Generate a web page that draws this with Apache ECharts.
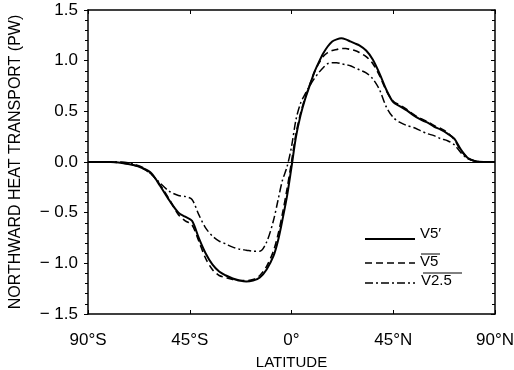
<!DOCTYPE html>
<html><head><meta charset="utf-8">
<script src="https://cdn.jsdelivr.net/npm/echarts@6/dist/echarts.min.js"></script>
<style>html,body{margin:0;padding:0;background:#fff}#c{width:514px;height:370px}</style>
</head><body><div id="c"></div>
<script>
var latitudes = [-90,-80,-75,-70,-66,-62,-58,-54,-50,-47,-44,-41,-38,-35,-32,-29,-26,-23,-20,-17,-14,-11,-8,-6,-4,-2,0,2,4,6,8,10,12,14,16,18,20,22,24,26,28,30,33,36,39,42,45,48,51,54,57,60,63,66,69,72,75,78,81,85,90];
var v5prime = [0,0,-0.01,-0.03,-0.06,-0.11,-0.24,-0.38,-0.50,-0.54,-0.58,-0.75,-0.90,-1.01,-1.08,-1.12,-1.15,-1.17,-1.18,-1.17,-1.14,-1.06,-0.93,-0.78,-0.57,-0.34,-0.05,0.25,0.46,0.62,0.75,0.88,0.98,1.07,1.14,1.19,1.21,1.22,1.21,1.19,1.17,1.15,1.10,1.01,0.87,0.71,0.59,0.55,0.51,0.46,0.42,0.39,0.35,0.32,0.28,0.23,0.12,0.04,0.01,0,0];
var v5bar = [0,0,-0.01,-0.03,-0.06,-0.12,-0.23,-0.37,-0.52,-0.58,-0.62,-0.78,-0.95,-1.06,-1.12,-1.14,-1.16,-1.17,-1.17,-1.16,-1.12,-1.03,-0.88,-0.72,-0.51,-0.27,0.0,0.28,0.48,0.63,0.76,0.88,0.97,1.04,1.08,1.10,1.11,1.12,1.12,1.11,1.10,1.08,1.04,0.97,0.85,0.70,0.60,0.56,0.52,0.47,0.43,0.40,0.36,0.33,0.29,0.22,0.11,0.04,0.01,0,0];
var v25bar = [0,0,0,-0.02,-0.05,-0.12,-0.21,-0.29,-0.33,-0.34,-0.37,-0.52,-0.65,-0.73,-0.78,-0.81,-0.84,-0.86,-0.87,-0.88,-0.88,-0.79,-0.58,-0.38,-0.18,-0.05,0.15,0.42,0.58,0.67,0.75,0.82,0.88,0.93,0.97,0.98,0.98,0.97,0.96,0.95,0.93,0.91,0.88,0.82,0.71,0.54,0.44,0.39,0.36,0.34,0.31,0.28,0.26,0.23,0.21,0.17,0.09,0.03,0.01,0,0];
var xTicks = {'-90':'90°S','-45':'45°S','0':'0°','45':'45°N','90':'90°N'};
var yTicks = [-1.5,-1.0,-0.5,0.0,0.5,1.0,1.5];

function pairs(v){return latitudes.map(function(l,i){return [l,v[i]];});}
var FONT = '"Liberation Sans", Arial, sans-serif';
var chart = echarts.init(document.getElementById('c'), null, {renderer:'canvas'});
var axLine = {show:true, onZero:false, lineStyle:{color:'#000', width:1.5}};
chart.setOption({
  animation:false,
  grid:{left:88, right:19, top:10, bottom:56, containLabel:false, outerBoundsMode:'none'},
  xAxis:[{
    type:'value', min:-90, max:90, interval:45, position:'bottom',
    axisLine:axLine, splitLine:{show:false},
    axisTick:{show:true, inside:true, length:4, lineStyle:{color:'#000'}},
    axisLabel:{color:'#000', fontSize:17, fontFamily:FONT, margin:18, formatter:function(v){return xTicks[String(v)]||'';}},
    name:'LATITUDE', nameLocation:'middle', nameGap:41, nameMoveOverlap:false,
    nameTextStyle:{color:'#000', fontSize:15, fontFamily:FONT}
  },{
    type:'value', min:-90, max:90, interval:45, position:'top',
    axisLine:axLine, splitLine:{show:false}, axisLabel:{show:false},
    axisTick:{show:true, inside:true, length:4, lineStyle:{color:'#000'}}
  }],
  yAxis:[{
    type:'value', min:-1.5, max:1.5, interval:0.5, position:'left',
    axisLine:axLine, splitLine:{show:false},
    axisTick:{show:true, inside:false, length:4, lineStyle:{color:'#000'}},
    minorTick:{show:true, splitNumber:5, length:3, lineStyle:{color:'#000'}},
    axisLabel:{color:'#000', fontSize:17, fontFamily:FONT, margin:10,
      formatter:function(v){var s=Math.abs(v).toFixed(1);return (v<0?'\u2212 ':'')+s;}},
    name:'NORTHWARD HEAT TRANSPORT (PW)', nameLocation:'middle', nameGap:64, nameRotate:90, nameMoveOverlap:false,
    nameTextStyle:{color:'#000', fontSize:16, fontFamily:FONT}
  },{
    type:'value', min:-1.5, max:1.5, interval:0.5, position:'right',
    axisLine:axLine, splitLine:{show:false}, axisLabel:{show:false},
    axisTick:{show:true, inside:true, length:4, lineStyle:{color:'#000'}},
    minorTick:{show:true, splitNumber:5, length:3, lineStyle:{color:'#000'}}
  }],
  series:[
    {type:'line', name:'V5\u2032', data:pairs(v5prime), showSymbol:false, smooth:0.3,
     lineStyle:{color:'#000', width:2, type:'solid'},
     markLine:{silent:true, symbol:'none', label:{show:false}, lineStyle:{color:'#000', width:1.2, type:'solid'}, data:[{yAxis:0}]}},
    {type:'line', name:'V5', data:pairs(v5bar), showSymbol:false, smooth:0.3,
     lineStyle:{color:'#000', width:1.6, type:[7,4]}},
    {type:'line', name:'V2.5', data:pairs(v25bar), showSymbol:false, smooth:0.3,
     lineStyle:{color:'#000', width:1.5, type:[8,3,2,3]}}
  ],
  graphic:[
    {type:'line', shape:{x1:365,y1:239,x2:415,y2:239}, style:{stroke:'#000', lineWidth:2}},
    {type:'line', shape:{x1:365,y1:263,x2:415,y2:263}, style:{stroke:'#000', lineWidth:1.6, lineDash:[7,4]}},
    {type:'line', shape:{x1:365,y1:283,x2:415,y2:283}, style:{stroke:'#000', lineWidth:1.5, lineDash:[8,3,2,3]}},
    {type:'text', x:420, y:234, style:{text:'V5\u2032', fill:'#000', font:'15px '+FONT, textVerticalAlign:'middle'}},
    {type:'text', x:420, y:262, style:{text:'V5', fill:'#000', font:'15px '+FONT, textVerticalAlign:'middle'}},
    {type:'line', shape:{x1:421,y1:254,x2:440,y2:254}, style:{stroke:'#000', lineWidth:1}},
    {type:'text', x:421, y:281, style:{text:'V2.5', fill:'#000', font:'15px '+FONT, textVerticalAlign:'middle'}},
    {type:'line', shape:{x1:423,y1:273,x2:462,y2:273}, style:{stroke:'#000', lineWidth:1}}
  ]
});
</script></body></html>
